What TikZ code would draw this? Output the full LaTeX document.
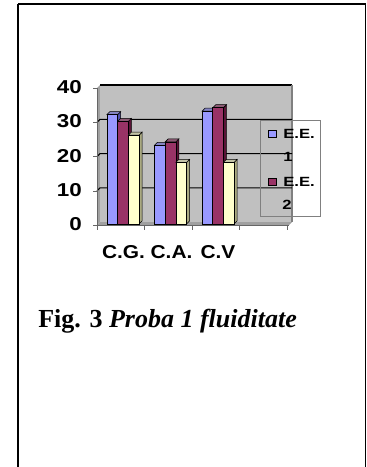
\documentclass[tikz,border=0pt]{standalone}
\usepackage{fontspec}
\setmainfont{Liberation Serif}
\newfontfamily\chartfont{Liberation Sans}
\newcommand{\axisfont}{\chartfont\bfseries\fontsize{14}{16}\selectfont}
\newcommand{\legfont}{\chartfont\bfseries\fontsize{10}{12}\selectfont}
% stretched chart text, as in the pasted chart
\newcommand{\wide}[2]{\scalebox{#1}[1]{#2}}
% one 3D column: left x, value, face colour, side colour
\newcommand{\colbar}[4]{%
  \filldraw[fill=#4, line width=0.4pt] ({#1+10.7},224) -- ({#1+13.7},221) -- ({#1+13.7},{221-3.42*#2}) -- ({#1+10.7},{224-3.42*#2}) -- cycle;
  \filldraw[fill=#4!70!white, line width=0.4pt] (#1,{224-3.42*#2}) -- ({#1+3},{221-3.42*#2}) -- ({#1+13.7},{221-3.42*#2}) -- ({#1+10.7},{224-3.42*#2}) -- cycle;
  \filldraw[fill=#3, line width=0.4pt] (#1,224) rectangle ({#1+10.7},{224-3.42*#2});
}
\begin{document}
\begin{tikzpicture}[x=0.75pt, y=-0.75pt, every node/.style={inner sep=0pt}]
  \definecolor{wallgray}{RGB}{192,192,192}
  \definecolor{sidegray}{RGB}{160,160,160}
  \definecolor{barA}{RGB}{153,153,255}
  \definecolor{barAside}{RGB}{80,80,170}
  \definecolor{barB}{RGB}{153,51,102}
  \definecolor{barBside}{RGB}{90,20,55}
  \definecolor{barC}{RGB}{255,255,204}
  \definecolor{barCside}{RGB}{170,170,130}
  \useasboundingbox (0,0) rectangle (367,467);
  % frame
  \draw[line width=1.5pt] (18,467) -- (18,4);
  \draw[line width=0.9pt] (18,4) -- (365.5,4) -- (365.5,467);
  % walls and floor
  \fill[sidegray] (97,88) -- (100,85) -- (100,222) -- (97,225) -- cycle;
  \fill[sidegray] (97,225) -- (100,222) -- (292,222) -- (289,225) -- cycle;
  \fill[wallgray] (100,85) rectangle (292,222);
  \draw[line width=0.8pt] (100,85) -- (292,85);
  \draw[gray, line width=0.8pt] (292,85) -- (292,222);
  \foreach \v in {10,20,30}
    \draw[line width=0.8pt] (97,{225-3.42*\v}) -- (100,{222-3.42*\v}) -- (292,{222-3.42*\v});
  % axes
  \draw[black!60] (97,88) -- (97,225) -- (289,225);
  \foreach \i in {0,...,4}
    \draw[black!60] ({97+47.5*\i},225) -- ++(0,5);
  \foreach \v in {0,10,20,30,40}
    \draw[black!60] (93,{225-3.42*\v}) -- (97,{225-3.42*\v});
  % columns
  \colbar{107}{32}{barA}{barAside}
  \colbar{117.7}{30}{barB}{barBside}
  \colbar{128.4}{26}{barC}{barCside}
  \colbar{154.5}{23}{barA}{barAside}
  \colbar{165.2}{24}{barB}{barBside}
  \colbar{175.9}{18}{barC}{barCside}
  \colbar{202}{33}{barA}{barAside}
  \colbar{212.7}{34}{barB}{barBside}
  \colbar{223.4}{18}{barC}{barCside}
  % labels
  \foreach \v in {0,10,20,30,40}
    \node[anchor=east, font=\axisfont] (y\v) at (82,{224-3.42*\v}) {\wide{1.2}{\v}};
  \node[anchor=base, font=\axisfont] (catCG) at (123.5,258) {\wide{1.12}{C.G.}};
  \node[anchor=base, font=\axisfont] (catCA) at (171.5,258) {\wide{1.12}{C.A.}};
  \node[anchor=base, font=\axisfont] (catCV) at (218,258) {\wide{1.12}{C.V}};
  % legend
  \draw[gray, line width=0.4pt] (260,120) rectangle (320,216);
  \filldraw[fill=barA, line width=0.6pt] (268,130) rectangle (276,137);
  \filldraw[fill=barB, line width=0.6pt] (268,178) rectangle (276,185);
  \node[anchor=base west, font=\legfont] (legA) at (283,138) {\wide{1.25}{E.E.}};
  \node[anchor=base, font=\legfont] (legAn) at (288,161) {\wide{1.25}{1}};
  \node[anchor=base west, font=\legfont] (legB) at (283,186) {\wide{1.25}{E.E.}};
  \node[anchor=base, font=\legfont] (legBn) at (287,209) {\wide{1.25}{2}};
  % caption
  \node[anchor=base west, font=\fontsize{19.5}{22}\selectfont] (capt) at (38,327)
    {\textbf{Fig. 3} \textbf{\textit{Proba 1 fluiditate}}};
\end{tikzpicture}
\end{document}
